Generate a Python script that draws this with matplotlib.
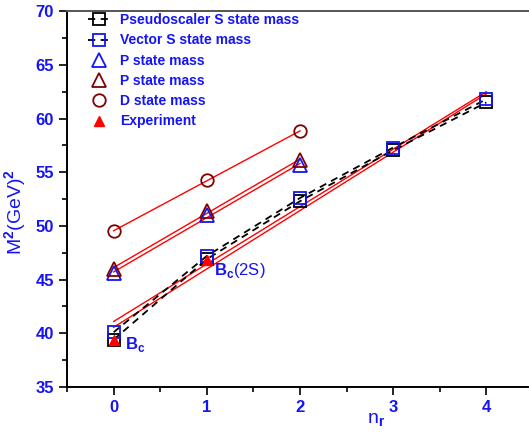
import numpy as np
import matplotlib.pyplot as plt

plt.rcParams['font.family'] = ['Liberation Sans', 'DejaVu Sans']
plt.rcParams['font.weight'] = 'bold'
plt.rcParams['mathtext.fontset'] = 'custom'
plt.rcParams['mathtext.rm'] = 'Liberation Sans'
plt.rcParams['mathtext.bf'] = 'Liberation Sans:bold'

# radial quantum number
n_s = [0, 1, 2, 3, 4]
n_pd = [0, 1, 2]

# masses squared (GeV^2)
pseudo_s = [39.4, 46.9, 52.3, 57.05, 61.5]
vector_s = [40.1, 47.2, 52.6, 57.3, 61.8]
p_blue = [45.6, 51.0, 55.7]
p_red = [46.0, 51.4, 56.1]
d_state = [49.5, 54.3, 58.8]
n_exp = [0, 1]
experiment = [39.4, 46.8]

blue = '#1414f5'
dred = '#800000'

fig = plt.figure(figsize=(5.29, 4.32), dpi=100)
ax = fig.add_axes([0.1267, 0.1042, 0.872, 0.870])

# linear fits (red lines)
for xs, ys in [(n_s, pseudo_s), (n_s, vector_s), (n_pd, p_blue), (n_pd, p_red), (n_pd, d_state)]:
    k, b = np.polyfit(xs, ys, 1)
    xx = np.array([xs[0], xs[-1]])
    ax.plot(xx, k * xx + b, color='red', lw=1.0, zorder=2)

ax.plot(n_s, pseudo_s, '--', color='black', lw=1.3, marker='s', ms=9, mfc='none',
        mec='black', mew=1.3, dashes=(4, 3), label='Pseudoscaler S state mass', zorder=3)
ax.plot(n_s, vector_s, '--', color='black', lw=1.3, marker='s', ms=9, mfc='none',
        mec=blue, mew=1.3, dashes=(4, 3), label='Vector S state mass', zorder=4)
ax.plot(n_pd, p_blue, ls='none', marker='^', ms=10, mfc='none', mec=blue, mew=1.3,
        label='P state mass', zorder=4)
ax.plot(n_pd, p_red, ls='none', marker='^', ms=10, mfc='none', mec=dred, mew=1.3,
        label='P state mass', zorder=4)
ax.plot(n_pd, d_state, ls='none', marker='o', ms=9, mfc='none', mec=dred, mew=1.3,
        label='D state mass', zorder=4)
ax.plot(n_exp, experiment, ls='none', marker='^', ms=7, color='red',
        label='Experiment', zorder=5)

# state labels
ax.text(0.12, 38.5, r'$\mathbf{B}_\mathbf{c}$', color=blue, fontsize=12)
ax.text(1.08, 45.4, r'$\mathbf{B}_\mathbf{c}$(2S)', color=blue, fontsize=12,
        fontweight='normal')

ax.set_xlim(-0.5, 4.45)
ax.set_ylim(35, 70)
ax.set_xticks([0, 1, 2, 3, 4])
ax.set_xticks(np.arange(-0.5, 4.5, 0.5), minor=True)
ax.set_yticks(np.arange(35, 71, 5))
ax.set_yticks(np.arange(35, 70, 2.5), minor=True)
ax.tick_params(which='both', direction='out', width=1.2, colors='black',
               labelcolor=blue, labelsize=12)
ax.tick_params(which='major', length=6)
ax.tick_params(which='minor', length=3.5)

for side in ['left', 'bottom']:
    ax.spines[side].set_linewidth(1.4)
ax.spines['top'].set_color('#555555')
ax.spines['top'].set_linewidth(1.4)
ax.spines['right'].set_visible(False)

ax.set_ylabel(r'M$^\mathrm{2}$(GeV)$^\mathrm{2}$', color=blue, fontsize=14,
              fontweight='normal')
ax.set_xlabel(r'n$_\mathrm{r}$', color=blue, fontsize=14, fontweight='normal')
ax.yaxis.set_label_coords(-0.083, 0.465)
ax.xaxis.set_label_coords(0.67, -0.065)

leg = ax.legend(loc='upper left', frameon=False, fontsize=10, handlelength=1.6,
                handletextpad=0.7, labelspacing=0.45, borderaxespad=0.1,
                bbox_to_anchor=(0.03, 1.013))
for t in leg.get_texts():
    t.set_color(blue)

fig.savefig('out.png', dpi=100)
